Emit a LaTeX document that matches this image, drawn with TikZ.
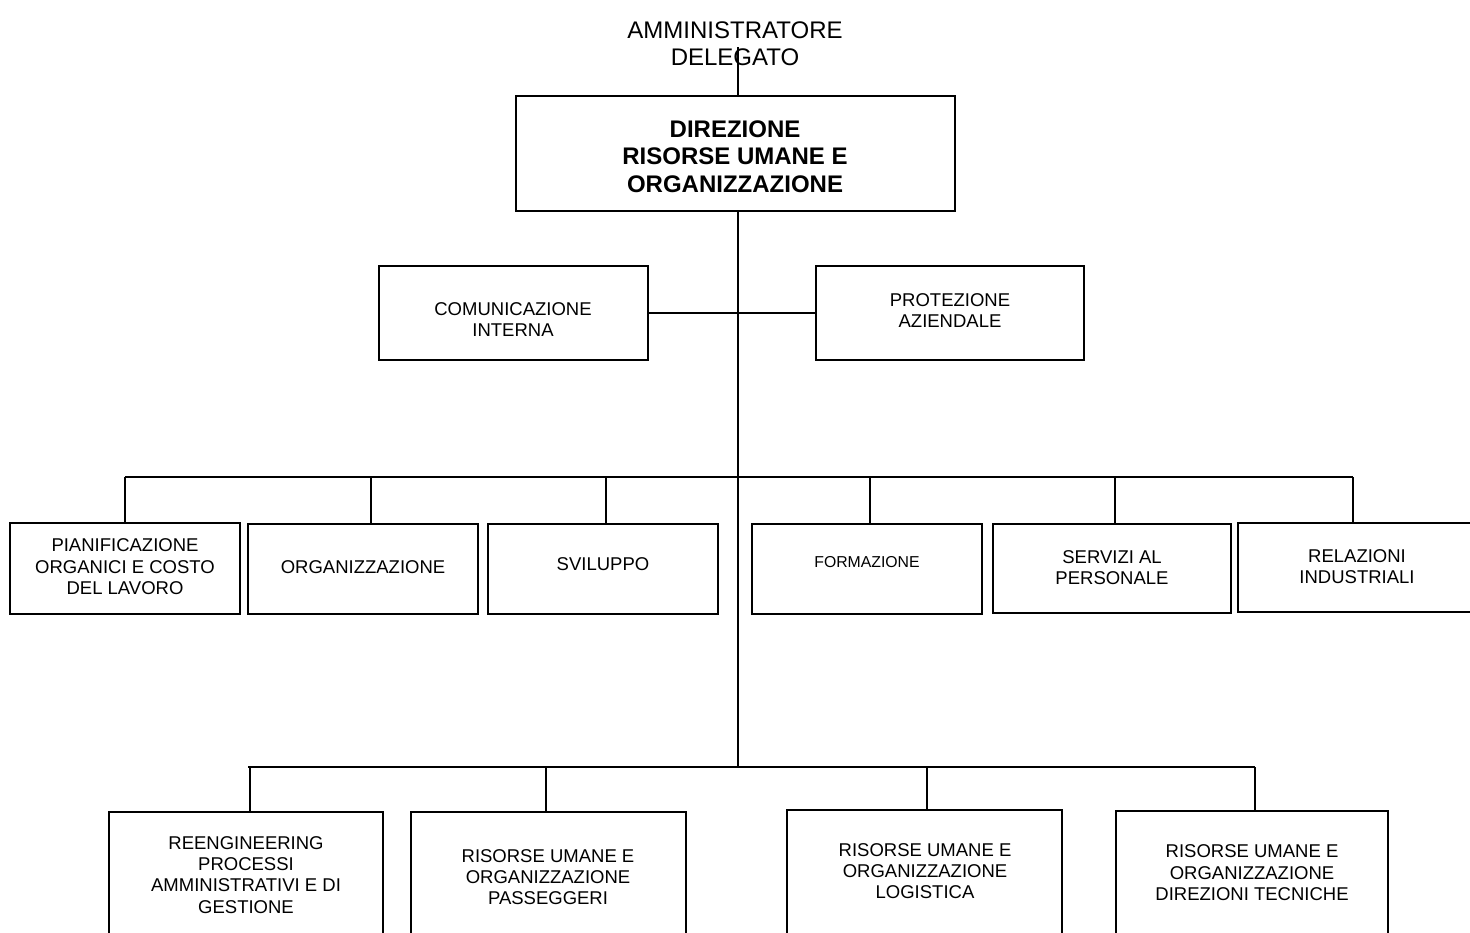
\documentclass[tikz,border=0pt]{standalone}
\usepackage{fontspec}
\setmainfont{Liberation Sans}
\usetikzlibrary{fit}
\begin{document}
\begin{tikzpicture}[x=0.5pt,y=-0.5pt,
  box/.style={draw=black,line width=1pt,inner sep=0pt,fill=white},
  conn/.style={draw=black,line width=1pt},
  txt/.style={align=center,inner sep=0pt,font=\fontsize{9.25}{10.6}\selectfont},
  bigtxt/.style={align=center,inner sep=0pt,font=\fontsize{12}{13.6}\selectfont},
  boldtxt/.style={align=center,inner sep=0pt,font=\fontsize{12}{13.8}\selectfont\bfseries}]
\useasboundingbox (0,0) rectangle (1470,932);
\fill[white] (0,0) rectangle (1470,932);
\clip (0,0) rectangle (1470,932);

% boxes
\node[box,fit={(516,96)(955,211)}] (main) {};
\node[box,fit={(379,266)(648,360)}] (com) {};
\node[box,fit={(816,266)(1084,360)}] (prot) {};
\node[box,fit={(10,523)(240,614)}] (b1) {};
\node[box,fit={(248,524)(478,614)}] (b2) {};
\node[box,fit={(488,524)(718,614)}] (b3) {};
\node[box,fit={(752,524)(982,614)}] (b4) {};
\node[box,fit={(993,524)(1231,613)}] (b5) {};
\node[box,fit={(1238,523)(1482,612)}] (b6) {};
\node[box,fit={(109,812)(383,960)}] (c1) {};
\node[box,fit={(411,812)(686,960)}] (c2) {};
\node[box,fit={(787,810)(1062,960)}] (c3) {};
\node[box,fit={(1116,811)(1388,960)}] (c4) {};

% texts
\node[bigtxt] (ad) at (735,43.5) {AMMINISTRATORE\\DELEGATO};
\node[boldtxt] (tmain) at (735,156.5) {DIREZIONE\\RISORSE UMANE E\\ORGANIZZAZIONE};
\node[txt] (tcom) at (513,319.5) {COMUNICAZIONE\\INTERNA};
\node[txt] (tprot) at (950,310.5) {PROTEZIONE\\AZIENDALE};
\node[txt] (tb1) at (125,566.7) {PIANIFICAZIONE\\ORGANICI E COSTO\\DEL LAVORO};
\node[txt] (tb2) at (363,567) {ORGANIZZAZIONE};
\node[txt] (tb3) at (603,564) {SVILUPPO};
\node[txt,font=\fontsize{7.9}{9}\selectfont] (tb4) at (867,562) {FORMAZIONE};
\node[txt] (tb5) at (1112,568) {SERVIZI AL\\PERSONALE};
\node[txt] (tb6) at (1357,567) {RELAZIONI\\INDUSTRIALI};
\node[txt] (tc1) at (246,875) {REENGINEERING\\PROCESSI\\AMMINISTRATIVI E DI\\GESTIONE};
\node[txt] (tc2) at (548,877) {RISORSE UMANE E\\ORGANIZZAZIONE\\PASSEGGERI};
\node[txt] (tc3) at (925,871.3) {RISORSE UMANE E\\ORGANIZZAZIONE\\LOGISTICA};
\node[txt] (tc4) at (1252,872.7) {RISORSE UMANE E\\ORGANIZZAZIONE\\DIREZIONI TECNICHE};

% connectors
\coordinate (adfoot) at (738,47);
\draw[conn] (adfoot) -- (adfoot |- main.north);
\coordinate (trunk) at (738,211);
\coordinate (bus2c) at (738,767);
\draw[conn] (trunk) -- (bus2c);
\draw[conn] (com.east) -- (prot.west);

% first bus
\coordinate (d1) at (125,477);
\coordinate (d2) at (371,477);
\coordinate (d3) at (606,477);
\coordinate (d4) at (870,477);
\coordinate (d5) at (1115,477);
\coordinate (d6) at (1353,477);
\draw[conn] (d1) -- (d6);
\draw[conn] (d1) -- (d1 |- b1.north);
\draw[conn] (d2) -- (d2 |- b2.north);
\draw[conn] (d3) -- (d3 |- b3.north);
\draw[conn] (d4) -- (d4 |- b4.north);
\draw[conn] (d5) -- (d5 |- b5.north);
\draw[conn] (d6) -- (d6 |- b6.north);

% second bus
\coordinate (e1) at (248,767);
\coordinate (e1d) at (250,767);
\coordinate (e2) at (546,767);
\coordinate (e3) at (927,767);
\coordinate (e4) at (1255,767);
\draw[conn] (e1) -- (e4);
\draw[conn] (e1d) -- (e1d |- c1.north);
\draw[conn] (e2) -- (e2 |- c2.north);
\draw[conn] (e3) -- (e3 |- c3.north);
\draw[conn] (e4) -- (e4 |- c4.north);
\end{tikzpicture}
\end{document}
